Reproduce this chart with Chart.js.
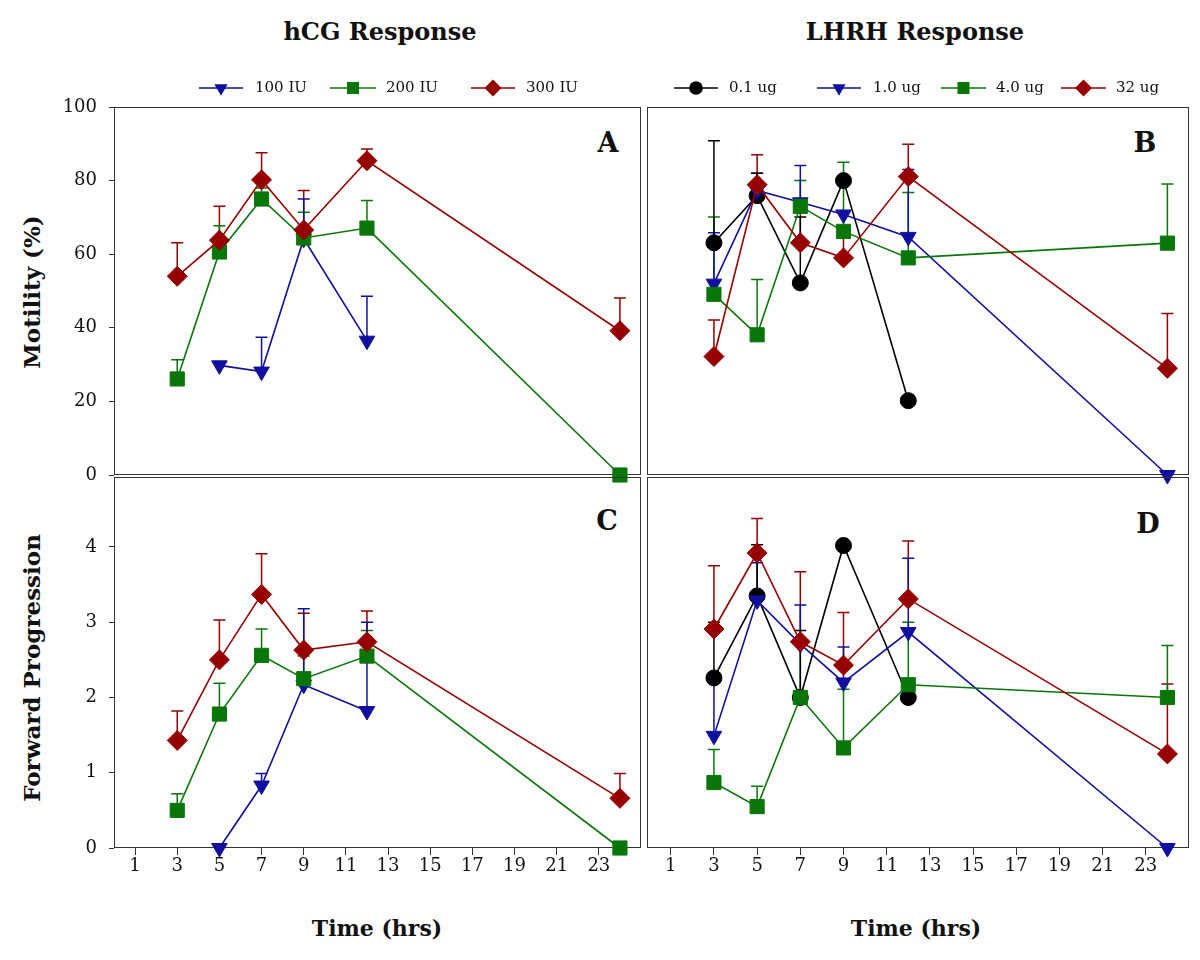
<!DOCTYPE html>
<html>
<head>
<meta charset="utf-8">
<script src="https://cdn.jsdelivr.net/npm/chart.js@4.4.0/dist/chart.umd.min.js"></script>
<style>
  body { margin:0; background:#fff; width:1200px; height:960px; position:relative; overflow:hidden;
         font-family:'DejaVu Serif', serif; color:#111; }
  canvas { position:absolute; }
  .t   { position:absolute; font-weight:bold; white-space:nowrap; transform:translate(-50%,-50%); }
  .rot { transform:translate(-50%,-50%) rotate(-90deg); }
  .lg  { position:absolute; font-size:15px; white-space:nowrap; line-height:20px; }
  svg  { position:absolute; overflow:visible; }
</style>
</head>
<body>

<div class="t" style="left:380px;top:31px;font-size:24px">hCG Response</div>
<div class="t" style="left:915px;top:31px;font-size:24px">LHRH Response</div>
<div class="t rot" style="left:31px;top:292px;font-size:23px">Motility (%)</div>
<div class="t rot" style="left:31px;top:668px;font-size:23px">Forward Progression</div>
<div class="t" style="left:377px;top:928px;font-size:22px">Time (hrs)</div>
<div class="t" style="left:916px;top:928px;font-size:22px">Time (hrs)</div>
<div class="t" style="left:608px;top:142px;font-size:27px">A</div>
<div class="t" style="left:1145px;top:142px;font-size:27px">B</div>
<div class="t" style="left:607px;top:520px;font-size:27px">C</div>
<div class="t" style="left:1148px;top:523px;font-size:27px">D</div>

<canvas id="cA" width="660" height="390" style="left:0;top:96px;width:660px;height:390px"></canvas>
<canvas id="cB" width="564" height="390" style="left:636px;top:96px;width:564px;height:390px"></canvas>
<canvas id="cC" width="660" height="420" style="left:0;top:466px;width:660px;height:420px"></canvas>
<canvas id="cD" width="564" height="420" style="left:636px;top:466px;width:564px;height:420px"></canvas>

<div id="legends"></div>

<script>
/* ── DATA ─────────────────────────────────────────────── */
const HOURS       = [3, 5, 7, 9, 12, 24];
const TIME_TICKS  = [1, 3, 5, 7, 9, 11, 13, 15, 17, 19, 21, 23];
const MOT_TICKS   = [0, 20, 40, 60, 80, 100];
const FP_TICKS    = [0, 1, 2, 3, 4];

/* hCG – motility (%) */
const hcgMot100    = [null, 29.8, 28.1, 64.2, 36.5, null];
const hcgMot100Err = [null, 0,    9.3,  10.8, 12.1, null];
const hcgMot200    = [26.1, 60.6, 75.0, 64.4, 67.1, 0];
const hcgMot200Err = [5.2,  7.1,  3.0,  7.0,  7.5,  0];
const hcgMot300    = [54.0, 63.8, 80.2, 66.6, 85.4, 39.2];
const hcgMot300Err = [9.1,  9.2,  7.4,  10.7, 3.2,  8.9];

/* hCG – forward progression */
const hcgFp100     = [null, 0,    0.83, 2.17, 1.82, null];
const hcgFp100Err  = [null, 0,    0.16, 1.01, 1.18, null];
const hcgFp200     = [0.50, 1.78, 2.56, 2.25, 2.55, 0];
const hcgFp200Err  = [0.22, 0.41, 0.35, 0.30, 0.34, 0];
const hcgFp300     = [1.43, 2.50, 3.37, 2.63, 2.74, 0.66];
const hcgFp300Err  = [0.39, 0.53, 0.54, 0.49, 0.41, 0.33];

/* LHRH – motility (%) */
const lhMot01      = [63.1, 75.9, 52.2, 80.0, 20.2, null];
const lhMot01Err   = [27.7, 6.1,  17.9, 0,    0,    null];
const lhMot10      = [52.0, 77.3, 74.1, 70.8, 64.7, 0];
const lhMot10Err   = [13.8, 4.7,  10.0, 0,    18.3, 0];
const lhMot40      = [49.1, 38.1, 73.0, 66.2, 59.0, 63.0];
const lhMot40Err   = [21.0, 15.0, 7.0,  18.8, 17.8, 16.1];
const lhMot32      = [32.2, 78.9, 63.1, 59.0, 81.1, 29.0];
const lhMot32Err   = [9.9,  8.1,  11.9, 6.8,  8.8,  14.9];

/* LHRH – forward progression */
const lhFp01       = [2.26, 3.35, 2.00, 4.02, 2.00, null];
const lhFp01Err    = [0.74, 0.68, 0.89, 0,    0,    null];
const lhFp10       = [1.49, 3.29, 2.71, 2.20, 2.87, 0];
const lhFp10Err    = [0.73, 0.50, 0.52, 0.47, 0.98, 0];
const lhFp40       = [0.87, 0.55, 2.00, 1.33, 2.17, 2.00];
const lhFp40Err    = [0.44, 0.27, 0.70, 0.78, 0.83, 0.69];
const lhFp32       = [2.91, 3.92, 2.74, 2.43, 3.31, 1.25];
const lhFp32Err    = [0.84, 0.46, 0.93, 0.70, 0.77, 0.93];

/* ── STYLES ───────────────────────────────────────────── */
const BLUE = '#10109e', GREEN = '#0a760a', RED = '#960000', BLACK = '#000';
const S100 = { label:'100 IU', color:BLUE,  shape:'triangle', rot:180, r:9 };
const S200 = { label:'200 IU', color:GREEN, shape:'rect',     rot:0,   r:10 };
const S300 = { label:'300 IU', color:RED,   shape:'rectRot',  rot:0,   r:10 };
const S01  = { label:'0.1 ug', color:BLACK, shape:'circle',   rot:0,   r:8 };
const S10  = { label:'1.0 ug', color:BLUE,  shape:'triangle', rot:180, r:9 };
const S40  = { label:'4.0 ug', color:GREEN, shape:'rect',     rot:0,   r:10 };
const S32  = { label:'32 ug',  color:RED,   shape:'rectRot',  rot:0,   r:10 };

Chart.defaults.font.family = "'DejaVu Serif', serif";
Chart.defaults.color = '#111';

function series(st, vals, errs) {
  const pts = [];
  const eb  = [];
  HOURS.forEach((h, i) => {
    if (vals[i] === null) return;
    pts.push({ x: h, y: vals[i] });
    eb.push({ x: h, y: vals[i], e: errs[i] || 0 });
  });
  return {
    label: st.label, data: pts, errs: eb,
    borderColor: st.color, backgroundColor: st.color,
    borderWidth: 1.6, pointStyle: st.shape, pointRotation: st.rot,
    pointRadius: st.r, pointHoverRadius: st.r, pointBorderWidth: 1,
    tension: 0, clip: false
  };
}

/* ── PLUGINS ──────────────────────────────────────────── */
const frame = {
  id: 'frame',
  beforeDatasetsDraw(chart) {
    const { ctx, chartArea: a } = chart;
    const l = Math.round(a.left) + 0.5, t = Math.round(a.top) + 0.5;
    const r = Math.round(a.right) - 0.5, b = Math.round(a.bottom) - 0.5;
    ctx.save();
    ctx.strokeStyle = '#333';
    ctx.lineWidth = 1;
    ctx.strokeRect(l, t, r - l, b - t);
    ctx.restore();
  }
};

const errorBars = {
  id: 'errorBars',
  beforeDatasetsDraw(chart) {
    const { ctx, scales: { x, y } } = chart;
    chart.data.datasets.forEach(ds => {
      ctx.save();
      ctx.strokeStyle = ds.borderColor;
      ctx.lineWidth = 1.5;
      ds.errs.forEach(p => {
        if (!p.e) return;
        const px = x.getPixelForValue(p.x);
        const y0 = y.getPixelForValue(p.y);
        const y1 = y.getPixelForValue(p.y + p.e);
        ctx.beginPath();
        ctx.moveTo(px, y0); ctx.lineTo(px, y1);
        ctx.moveTo(px - 6, y1); ctx.lineTo(px + 6, y1);
        ctx.stroke();
      });
      ctx.restore();
    });
  }
};

/* fixed axis sizes, no label overhang padding, so plot areas line up */
function fixX(show) {
  return s => {
    s.height = show ? 38 : 0;
    s.paddingLeft = s.paddingRight = s.paddingTop = s.paddingBottom = 0;
  };
}
function fixY(show) {
  return s => {
    s.width = show ? 114 : 0;
    s.paddingLeft = s.paddingRight = s.paddingTop = s.paddingBottom = 0;
  };
}

/* ── CHART FACTORY ────────────────────────────────────── */
function makeChart(id, datasets, o) {
  const tickFont = { size: 18, family: "'DejaVu Serif', serif" };
  return new Chart(document.getElementById(id), {
    type: 'line',
    data: { datasets },
    plugins: [frame, errorBars],
    options: {
      responsive: false, animation: false, devicePixelRatio: 1,
      layout: { padding: o.pad },
      plugins: { legend: { display: false }, tooltip: { enabled: false } },
      scales: {
        x: {
          type: 'linear', min: o.xmin, max: 25, display: o.showX,
          afterBuildTicks: s => { s.ticks = TIME_TICKS.map(v => ({ value: v })); },
          afterFit: fixX(o.showX),
          ticks: { font: tickFont, color: '#111', padding: 1, maxRotation: 0, autoSkip: false },
          grid: { drawOnChartArea: false, drawTicks: true, tickLength: 7, color: '#333' },
          border: { display: false }
        },
        y: {
          type: 'linear', min: 0, max: o.ymax, display: o.showY,
          afterBuildTicks: s => { s.ticks = o.yTicks.map(v => ({ value: v })); },
          afterFit: fixY(o.showY),
          ticks: { font: tickFont, color: '#111', padding: 12 },
          grid: { drawOnChartArea: false, drawTicks: true, tickLength: 5, color: '#333' },
          border: { display: false }
        }
      }
    }
  });
}

makeChart('cA', [
  series(S300, hcgMot300, hcgMot300Err),
  series(S200, hcgMot200, hcgMot200Err),
  series(S100, hcgMot100, hcgMot100Err)
], { pad: { top:10, right:19, bottom:10, left:0 }, xmin: 0, ymax: 100, yTicks: MOT_TICKS, showX: false, showY: true });

makeChart('cC', [
  series(S300, hcgFp300, hcgFp300Err),
  series(S200, hcgFp200, hcgFp200Err),
  series(S100, hcgFp100, hcgFp100Err)
], { pad: { top:9, right:19, bottom:0, left:0 }, xmin: 0, ymax: 4.93, yTicks: FP_TICKS, showX: true, showY: true });

makeChart('cB', [
  series(S32, lhMot32, lhMot32Err),
  series(S40, lhMot40, lhMot40Err),
  series(S10, lhMot10, lhMot10Err),
  series(S01, lhMot01, lhMot01Err)
], { pad: { top:10, right:9, bottom:10, left:7 }, xmin: -0.1, ymax: 100, yTicks: MOT_TICKS, showX: false, showY: false });

makeChart('cD', [
  series(S32, lhFp32, lhFp32Err),
  series(S40, lhFp40, lhFp40Err),
  series(S10, lhFp10, lhFp10Err),
  series(S01, lhFp01, lhFp01Err)
], { pad: { top:9, right:9, bottom:0, left:7 }, xmin: -0.1, ymax: 4.93, yTicks: FP_TICKS, showX: true, showY: false });

/* ── LEGENDS (html) ───────────────────────────────────── */
function markerPath(shape, r) {
  if (shape === 'triangle') return `<path d="M${-r*0.866},${-r/2} L${r*0.866},${-r/2} L0,${r} Z"/>`;
  if (shape === 'rect')     { const s = r * Math.SQRT1_2; return `<rect x="${-s}" y="${-s}" width="${2*s}" height="${2*s}"/>`; }
  if (shape === 'rectRot')  return `<path d="M0,${-r} L${r},0 L0,${r} L${-r},0 Z"/>`;
  return `<circle r="${r}"/>`;
}
const LEG_Y = 88;
const legendItems = [
  [S100, 199, 243, 255], [S200, 330, 376, 386], [S300, 471, 515, 526],
  [S01, 674, 718, 729],  [S10, 817, 861, 873],  [S40, 941, 986, 996], [S32, 1061, 1106, 1116]
];
document.getElementById('legends').innerHTML = legendItems.map(([st, x0, x1, tx]) => {
  const cx = (x0 + x1) / 2;
  return `<svg style="left:0;top:0" width="1" height="1">
      <line x1="${x0}" y1="${LEG_Y}" x2="${x1}" y2="${LEG_Y}" stroke="${st.color}" stroke-width="1.6"/>
      <g transform="translate(${cx},${LEG_Y})" fill="${st.color}">${markerPath(st.shape, st.r * 0.85)}</g>
    </svg>
    <div class="lg" style="left:${tx}px;top:${LEG_Y - 11}px">${st.label}</div>`;
}).join('');
</script>
</body>
</html>
